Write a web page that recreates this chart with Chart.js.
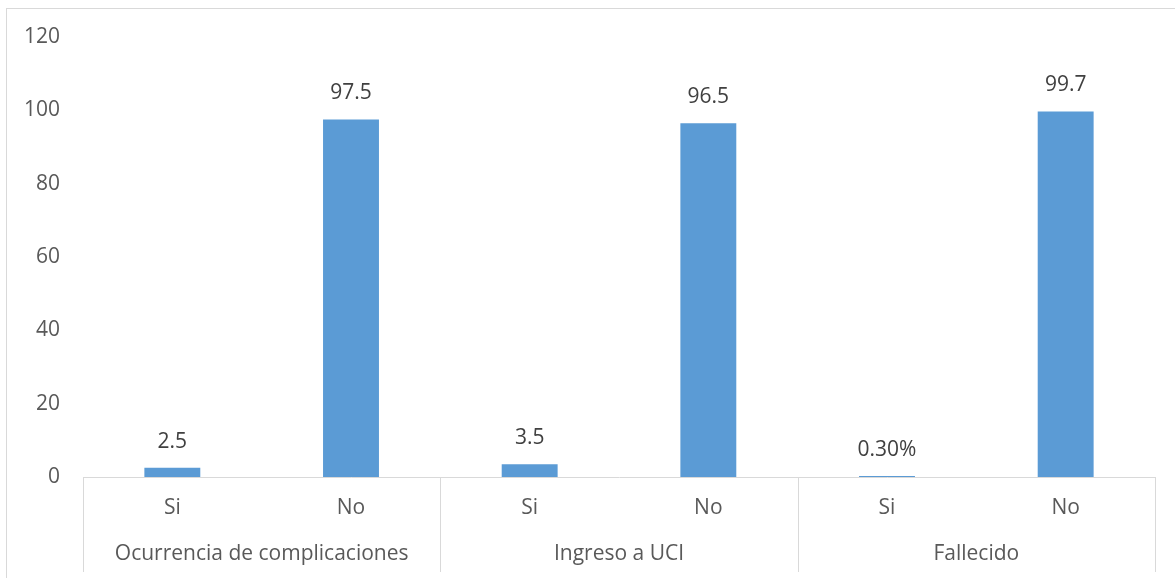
<!DOCTYPE html>
<html>
<head>
<meta charset="utf-8">
<script src="https://cdn.jsdelivr.net/npm/chart.js@4"></script>
<style>
  html, body { margin: 0; padding: 0; background: #fff; }
  #wrap { width: 1175px; height: 578px; }
</style>
</head>
<body>
<div id="wrap"><canvas id="myChart" width="1175" height="578"></canvas></div>
<script>
//data
const answers = ['Si', 'No', 'Si', 'No', 'Si', 'No'];
const groups = ['Ocurrencia de complicaciones', 'Ingreso a UCI', 'Fallecido'];
const values = [2.5, 97.5, 3.5, 96.5, 0.3, 99.7];
const valueLabels = ['2.5', '97.5', '3.5', '96.5', '0.30%', '99.7'];
const yTicks = [0, 20, 40, 60, 80, 100, 120];

//colors
const blue = '#5b9bd5';
const textGray = '#595959';
const labelGray = '#404040';
const lineGray = '#d9d9d9';
const font = '"Open Sans", "DejaVu Sans", sans-serif';
const fontSize = 21;

//frame, value labels, group labels and separators
const extras = {
    id: 'extras',
    beforeDraw(chart){
        const ctx = chart.ctx;
        ctx.save();
        ctx.strokeStyle = lineGray;
        ctx.lineWidth = 1;
        ctx.strokeRect(6.5, 8.5, 1200, 600);
        ctx.restore();
    },
    afterDraw(chart){
        const ctx = chart.ctx;
        const x = chart.scales.x;
        const area = chart.chartArea;
        const half = (x.getPixelForValue(1) - x.getPixelForValue(0)) / 2;
        ctx.save();

        //value labels above the bars
        const meta = chart.getDatasetMeta(0);
        ctx.font = fontSize + 'px ' + font;
        ctx.fillStyle = labelGray;
        ctx.textAlign = 'center';
        ctx.textBaseline = 'middle';
        meta.data.forEach(function(bar, i){
            ctx.fillText(valueLabels[i], bar.x, bar.y - 26);
        });

        //group separators
        ctx.strokeStyle = lineGray;
        ctx.lineWidth = 1;
        for(let g = 0; g <= groups.length; g++){
            let px = Math.round(x.getPixelForValue(g * 2) - half) + 0.5;
            ctx.beginPath();
            ctx.moveTo(px, area.bottom);
            ctx.lineTo(px, 572);
            ctx.stroke();
        }

        //group labels
        ctx.fillStyle = textGray;
        for(let g = 0; g < groups.length; g++){
            let cx = (x.getPixelForValue(g * 2) + x.getPixelForValue(g * 2 + 1)) / 2;
            ctx.fillText(groups[g], cx, 554);
        }
        ctx.restore();
    }
};

const config = {
    type: 'bar',
    data: {
        labels: answers,
        datasets: [{
            data: values,
            backgroundColor: blue,
            barPercentage: 0.313,
            categoryPercentage: 1.0
        }]
    },
    options: {
        responsive: false,
        animation: false,
        layout: {
            padding: { left: 0, right: 20, top: 37, bottom: 0 }
        },
        plugins: {
            legend: { display: false },
            tooltip: { enabled: false }
        },
        scales: {
            x: {
                grid: { display: false },
                border: { display: true, color: lineGray, width: 1 },
                ticks: {
                    color: textGray,
                    font: { family: font, size: fontSize },
                    padding: 10
                },
                afterFit: function(s){ s.height = 101; }
            },
            y: {
                min: 0,
                max: 120,
                grid: { display: false },
                border: { display: false },
                afterBuildTicks: function(s){
                    s.ticks = yTicks.map(v => ({ value: v }));
                },
                ticks: {
                    color: textGray,
                    font: { family: font, size: fontSize },
                    padding: 15
                },
                afterFit: function(s){ s.width = 83; }
            }
        }
    },
    plugins: [extras]
};

const ctx = document.getElementById('myChart').getContext('2d');
const myChart = new Chart(ctx, config);
</script>
</body>
</html>
